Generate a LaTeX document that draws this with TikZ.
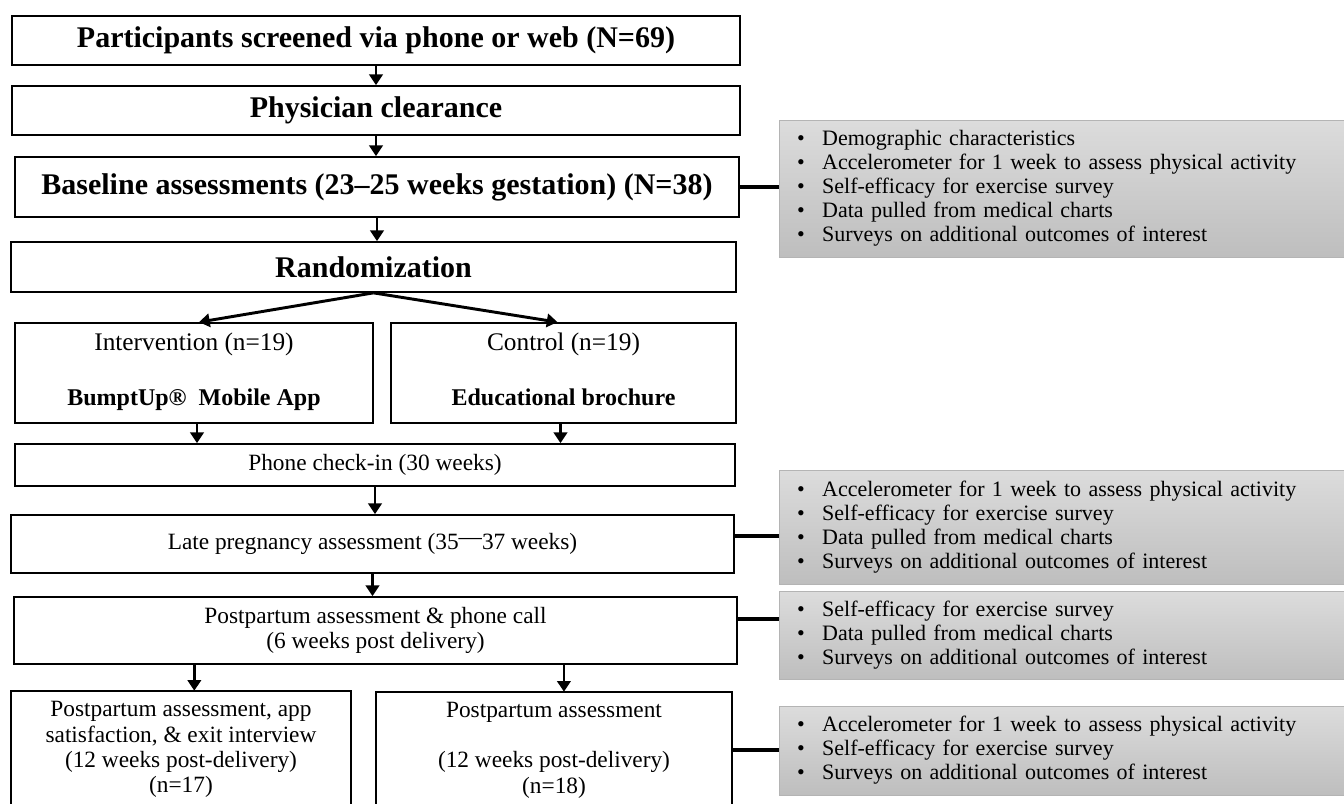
\documentclass[tikz,border=0pt]{standalone}
\usepackage{fontspec}
\setmainfont{Liberation Serif}
\usetikzlibrary{arrows.meta,calc}
\definecolor{gtop}{RGB}{220,220,220}
\definecolor{gbot}{RGB}{190,190,190}
\definecolor{gedge}{RGB}{180,180,180}
\newcommand{\gbul}{\makebox[18.75pt][l]{\textbullet}}
\tikzset{
  box/.style={draw, line width=1.3pt, inner sep=0pt},
  open/.style={inner sep=0pt},
  bigtxt/.style={font=\fontsize{22.5}{26}\selectfont\bfseries},
  regtxt/.style={font=\fontsize{17.5}{19}\selectfont, align=center},
  gbox/.style={draw=gedge, line width=0.6pt, top color=gtop, bottom color=gbot, inner sep=0pt,
    minimum width=425.25pt, text width=398pt, align=left, font=\fontsize{16.5}{18}\selectfont},
  arr/.style={line width=2pt, -{Triangle[width=10pt,length=8pt]}},
  brarr/.style={line width=2.2pt, -{Triangle[width=10pt,length=8pt]}},
  conn/.style={line width=3pt}
}
\begin{document}
\begin{tikzpicture}[x=0.75pt,y=-0.75pt]
\useasboundingbox (0,0) rectangle (1344,803);
% main column
\node[box, bigtxt, minimum width=546pt, minimum height=36.75pt] (b1) at (376,40.5) {Participants screened via phone or web (N=69)};
\node[box, bigtxt, minimum width=546pt, minimum height=36.75pt] (b2) at (376,110.5) {Physician clearance};
\node[box, bigtxt, minimum width=543pt, minimum height=45pt] (b3) at (377,187) {Baseline assessments (23–25 weeks gestation) (N=38)};
\node[box, bigtxt, minimum width=543.75pt, minimum height=37.5pt] (b4) at (373.5,267) {Randomization};
\node[box, regtxt, minimum width=268.5pt, minimum height=75pt] (int) at (194,373) {{\fontsize{19}{19}\selectfont\strut Intervention (n=19)}\\[22pt]{\fontsize{18}{19}\selectfont\bfseries\strut BumptUp®\ \ Mobile App}};
\node[box, regtxt, minimum width=258.75pt, minimum height=75pt] (ctl) at (563.5,373) {{\fontsize{19}{19}\selectfont\strut Control (n=19)}\\[22pt]{\fontsize{18}{19}\selectfont\bfseries\strut Educational brochure}};
\node[box, regtxt, minimum width=540pt, minimum height=31.5pt] (phone) at (375,465) {Phone check-in (30 weeks)};
\node[box, regtxt, minimum width=542.25pt, minimum height=43.5pt] (late) at (372.5,544) {\raisebox{-4.5pt}{Late pregnancy assessment (35\raisebox{0.2em}{—}37 weeks)}};
\node[box, regtxt, minimum width=542.25pt, minimum height=50.25pt] (pp6) at (375.5,630.5) {Postpartum assessment \& phone call\\(6 weeks post delivery)};
\node[open, regtxt, minimum width=255pt, minimum height=87.75pt] (bl) at (181,749.5) {Postpartum assessment, app\\satisfaction, \& exit interview\\(12 weeks post-delivery)\\(n=17)};
\node[open, regtxt, minimum width=267pt, minimum height=87pt] (br) at (554,750) {Postpartum assessment\\\mbox{}\\(12 weeks post-delivery)\\(n=18)};
\draw[line width=1.3pt] (bl.south west) |- (bl.north east) -- (bl.south east);
\draw[line width=1.3pt] (br.south west) |- (br.north east) -- (br.south east);
% gray boxes
\node[gbox, minimum height=102.75pt] (g1) at (1062.5,188.5) {\gbul Demographic characteristics\\\gbul Accelerometer for 1 week to assess physical activity\\\gbul Self-efficacy for exercise survey\\\gbul Data pulled from medical charts\\\gbul Surveys on additional outcomes of interest};
\node[gbox, minimum height=85.5pt] (g2) at (1062.5,527) {\gbul Accelerometer for 1 week to assess physical activity\\\gbul Self-efficacy for exercise survey\\\gbul Data pulled from medical charts\\\gbul Surveys on additional outcomes of interest};
\node[gbox, minimum height=66pt] (g3) at (1062.5,635) {\gbul Self-efficacy for exercise survey\\\gbul Data pulled from medical charts\\\gbul Surveys on additional outcomes of interest};
\node[gbox, minimum height=66.75pt] (g4) at (1062.5,750.5) {\gbul Accelerometer for 1 week to assess physical activity\\\gbul Self-efficacy for exercise survey\\\gbul Surveys on additional outcomes of interest};
% arrows
\draw[arr] (b1.south) -- (b1.south |- b2.north);
\draw[arr] (b2.south) -- (b2.south |- b3.north);
\draw[arr] (b3.south) -- (b3.south |- b4.north);
\draw[brarr] (b4.south) -- ($(int.north)+(5,0)$);
\draw[brarr] (b4.south) -- ($(ctl.north)+(-6,0)$);
\coordinate (ia) at ($(int.south)+(3,0)$);
\coordinate (ca) at ($(ctl.south)+(-3,0)$);
\draw[arr] (ia) -- (ia |- phone.north);
\draw[arr] (ca) -- (ca |- phone.north);
\draw[arr] (phone.south) -- (phone.south |- late.north);
\draw[arr] (late.south) -- (late.south |- pp6.north);
\coordinate (pa) at ($(pp6.south west)!0.25!(pp6.south east)$);
\coordinate (pb) at ($(pp6.south west)!0.76!(pp6.south east)$);
\draw[arr] (pa) -- (pa |- bl.north);
\draw[arr] (pb) -- (pb |- br.north);
% connectors
\draw[conn] (b3.east) -- (b3.east -| g1.west);
\coordinate (c2) at (0,536);
\coordinate (c3) at (0,619);
\coordinate (c4) at (0,750);
\draw[conn] (late.east |- c2) -- (g2.west |- c2);
\draw[conn] (pp6.east |- c3) -- (g3.west |- c3);
\draw[conn] (br.east |- c4) -- (g4.west |- c4);
\end{tikzpicture}
\end{document}
